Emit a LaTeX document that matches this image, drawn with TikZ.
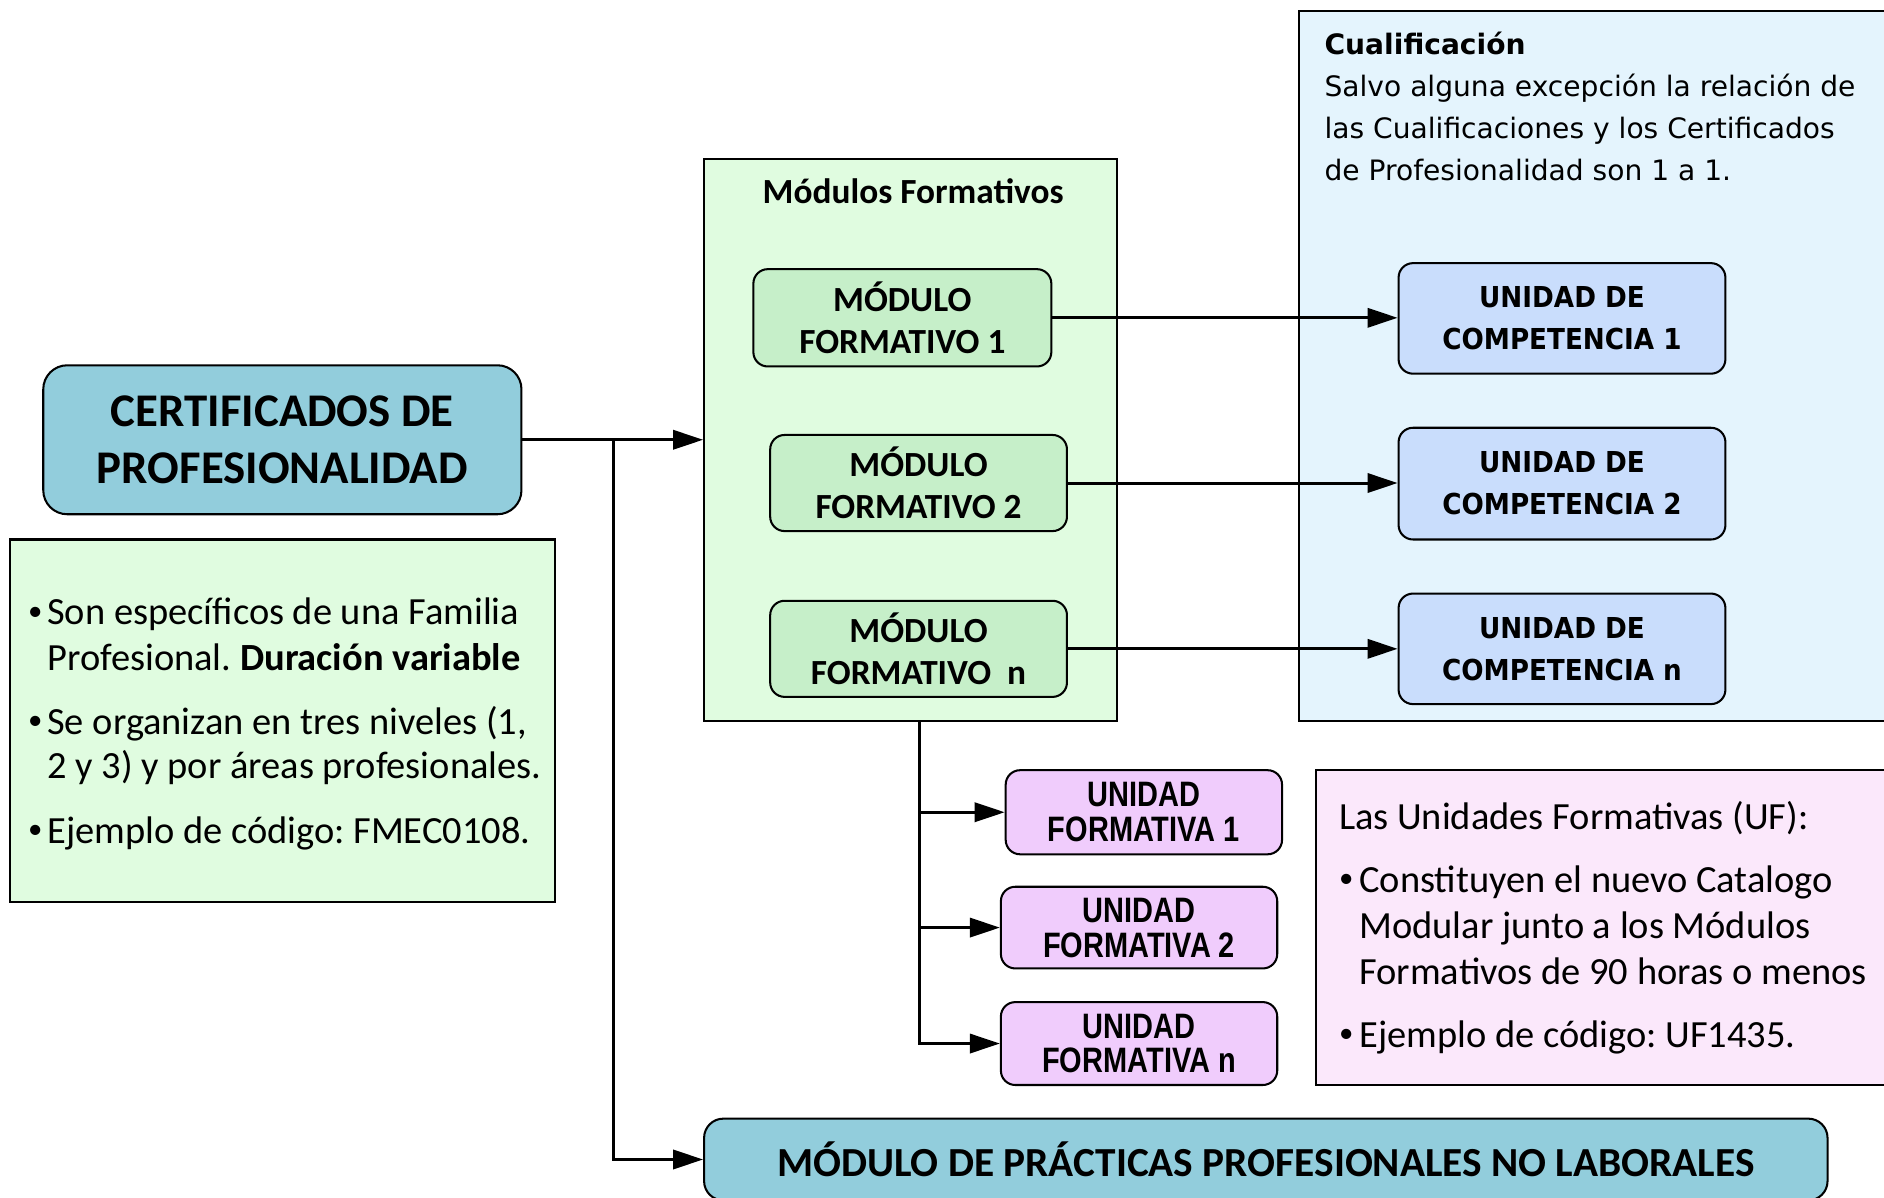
\documentclass[tikz,border=0pt]{standalone}
\usepackage{fontspec}
\setmainfont{Carlito}
\newfontfamily\vfont{DejaVu Sans}
\newfontfamily\vcfont[FakeStretch=0.91]{DejaVu Sans}
\newfontfamily\nfont[FakeStretch=0.82]{Liberation Sans}
\usetikzlibrary{arrows.meta}
\definecolor{certblue}{HTML}{92CDDC}
\definecolor{lgreen}{HTML}{E0FCE0}
\definecolor{mfgreen}{HTML}{C6EFC9}
\definecolor{cblue}{HTML}{E4F4FD}
\definecolor{ucblue}{HTML}{C9DDFC}
\definecolor{ufpurple}{HTML}{F0CCFC}
\definecolor{ufdesc}{HTML}{FBE8FB}
\frenchspacing
\begin{document}
\frenchspacing
\begin{tikzpicture}[x=0.5pt,y=-0.5pt,
  box/.style={draw=black, line width=0.85pt, inner sep=0pt, align=center},
  rbox/.style={box, rounded corners=6pt},
  conn/.style={line width=1.25pt, -{Triangle[length=12.5pt,width=8pt]}},
  txt/.style={inner sep=0pt, anchor=base west},
  lfont/.style={txt, font=\fontsize{16pt}{18.5pt}\selectfont},
  bfont/.style={txt, font=\fontsize{12pt}{12pt}\selectfont},
  cfont/.style={txt, font=\vfont\fontsize{11.7pt}{17.5pt}\selectfont},
  mffont/.style={font=\bfseries\fontsize{14.7pt}{17.5pt}\selectfont},
  ucfont/.style={font=\vcfont\bfseries\fontsize{12pt}{17.5pt}\selectfont},
  uffont/.style={font=\nfont\bfseries\fontsize{14.7pt}{14.5pt}\selectfont}]
\useasboundingbox (0,0) rectangle (1568,997);
\fill[white] (0,0) rectangle (1568,997);

% containers
\node[box, fill=lgreen, minimum width=227pt, minimum height=151pt] (lgbox) at (235,600) {};
\node[box, fill=lgreen, minimum width=172pt, minimum height=234pt] (mfbox) at (758,366) {};
\node[box, fill=cblue, minimum width=244.5pt, minimum height=295.5pt] (cbox) at (1325.5,304.5) {};
\node[box, fill=ufdesc, minimum width=237.5pt, minimum height=131pt] (ufbox) at (1332.5,772) {};

% main boxes
\node[box, rounded corners=10pt, fill=certblue, minimum width=199pt, minimum height=62pt,
      font=\bfseries\fontsize{19.5pt}{23.5pt}\selectfont] (cert) at (235,366) {CERTIFICADOS DE\\PROFESIONALIDAD};
\node[box, rounded corners=8pt, fill=certblue, minimum width=467.5pt, minimum height=34pt,
      font=\bfseries\fontsize{17.2pt}{20pt}\selectfont] (prac) at (1053.5,965) {MÓDULO DE PRÁCTICAS PROFESIONALES NO LABORALES};

% modulos formativos
\node[mffont, inner sep=0pt, anchor=base] (mftitle) at (760,169) {Módulos Formativos};
\node[rbox, fill=mfgreen, minimum width=124pt, minimum height=40.5pt, mffont] (mf1) at (751,264.5) {MÓDULO\\FORMATIVO 1};
\node[rbox, fill=mfgreen, minimum width=123.5pt, minimum height=40pt, mffont] (mf2) at (764.5,402) {MÓDULO\\FORMATIVO 2};
\node[rbox, fill=mfgreen, minimum width=123.5pt, minimum height=40pt, mffont] (mfn) at (764.5,540) {MÓDULO\\FORMATIVO\ \ n};

% unidades de competencia
\node[rbox, fill=ucblue, minimum width=136pt, minimum height=46pt, ucfont] (uc1) at (1300,265) {UNIDAD DE\\COMPETENCIA 1};
\node[rbox, fill=ucblue, minimum width=136pt, minimum height=46.5pt, ucfont] (uc2) at (1300,402.5) {UNIDAD DE\\COMPETENCIA 2};
\node[rbox, fill=ucblue, minimum width=136pt, minimum height=46pt, ucfont] (ucn) at (1300,540) {UNIDAD DE\\COMPETENCIA n};

% unidades formativas
\node[rbox, fill=ufpurple, minimum width=115pt, minimum height=35pt, uffont] (uf1) at (952,676) {UNIDAD\\FORMATIVA 1};
\node[rbox, fill=ufpurple, minimum width=115pt, minimum height=34pt, uffont] (uf2) at (948,772) {UNIDAD\\FORMATIVA 2};
\node[rbox, fill=ufpurple, minimum width=115pt, minimum height=34.5pt, uffont] (ufn) at (948,868.5) {UNIDAD\\FORMATIVA n};

% cualificacion text
\node[cfont] (c0) at (1102,45) {\bfseries Cualificación};
\node[cfont] (c1) at (1102,80) {Salvo alguna excepción la relación de};
\node[cfont] (c2) at (1102,115) {las Cualificaciones y los Certificados};
\node[cfont] (c3) at (1102,150) {de Profesionalidad son 1 a 1.};

% left bullets
\node[bfont] (lb1) at (23,516) {•};
\node[lfont] (l1) at (39,520) {Son específicos de una Familia};
\node[lfont] (l2) at (39,558) {Profesional. \textbf{Duración variable}};
\node[bfont] (lb2) at (23,607) {•};
\node[lfont] (l3) at (39,611) {Se organizan en tres niveles (1,};
\node[lfont] (l4) at (39,648) {2 y 3) y por áreas profesionales.};
\node[bfont] (lb3) at (23,698) {•};
\node[lfont] (l5) at (39,702) {Ejemplo de código: FMEC0108.};

% UF description
\node[lfont] (r0) at (1114,690) {Las Unidades Formativas (UF):};
\node[bfont] (rb1) at (1114,739) {•};
\node[lfont] (r1) at (1131,743) {Constituyen el nuevo Catalogo};
\node[lfont] (r2) at (1131,781) {Modular junto a los Módulos};
\node[lfont] (r3) at (1131,819) {Formativos de 90 horas o menos};
\node[bfont] (rb2) at (1114,868) {•};
\node[lfont] (r4) at (1131,872) {Ejemplo de código: UF1435.};

% connectors
\coordinate (j1) at (511,366);
\draw[conn] (cert.east) -- (mfbox.west);
\draw[conn] (j1) |- (prac.west);
\draw[conn] (mf1.east) -- (mf1.east -| uc1.west);
\draw[conn] (mf2.east) -- (mf2.east -| uc2.west);
\draw[conn] (mfn.east) -- (mfn.east -| ucn.west);
\coordinate (mfb) at (765,600);
\draw[conn] (mfb) |- (uf1.west);
\draw[conn] (mfb) |- (uf2.west);
\draw[conn] (mfb) |- (ufn.west);
\end{tikzpicture}
\end{document}
